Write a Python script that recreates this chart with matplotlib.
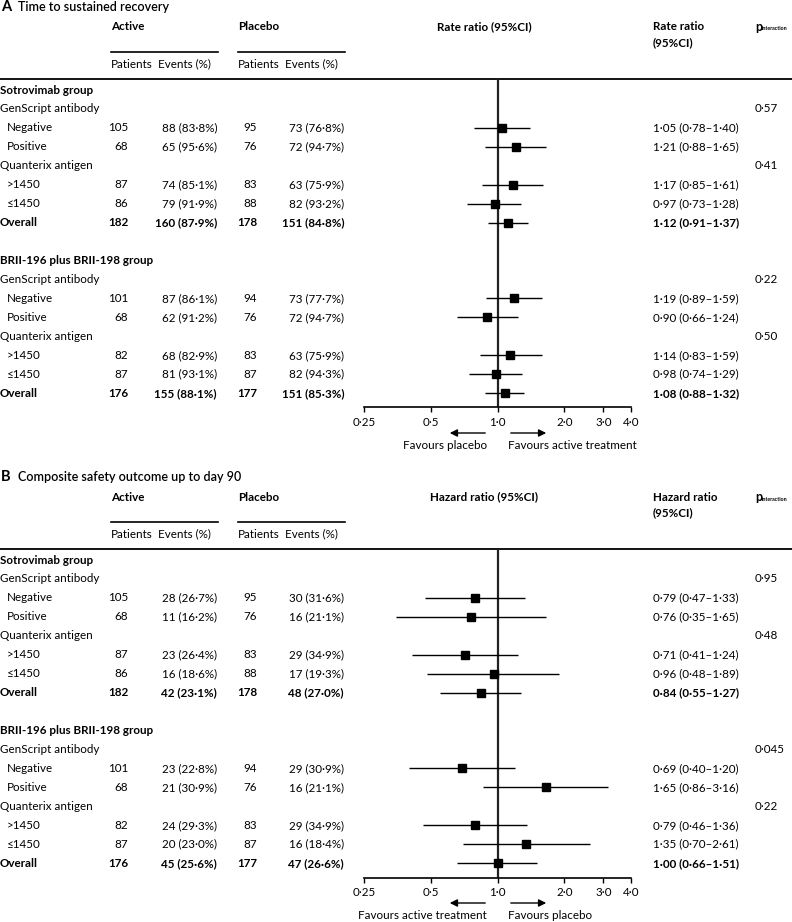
import matplotlib
matplotlib.use("Agg")
import matplotlib.pyplot as plt
from matplotlib.ticker import FixedLocator, NullLocator, FixedFormatter

plt.rcParams['font.family'] = ['Lato', 'DejaVu Sans']

W, H = 792, 922

# ---------------- data ----------------
groups = ["Sotrovimab group", "BRII-196 plus BRII-198 group"]
categories = ["GenScript antibody", "Quanterix antigen"]
subgroups = ["Negative", "Positive", ">1450", "\u22641450", "Overall"]

active_n = [105, 68, 87, 86, 182, 101, 68, 82, 87, 176]
placebo_n = [95, 76, 83, 88, 178, 94, 76, 83, 87, 177]

A_active_ev = [88, 65, 74, 79, 160, 87, 62, 68, 81, 155]
A_active_pct = [83.8, 95.6, 85.1, 91.9, 87.9, 86.1, 91.2, 82.9, 93.1, 88.1]
A_placebo_ev = [73, 72, 63, 82, 151, 73, 72, 63, 82, 151]
A_placebo_pct = [76.8, 94.7, 75.9, 93.2, 84.8, 77.7, 94.7, 75.9, 94.3, 85.3]
A_est = [1.05, 1.21, 1.17, 0.97, 1.12, 1.19, 0.90, 1.14, 0.98, 1.08]
A_lo = [0.78, 0.88, 0.85, 0.73, 0.91, 0.89, 0.66, 0.83, 0.74, 0.88]
A_hi = [1.40, 1.65, 1.61, 1.28, 1.37, 1.59, 1.24, 1.59, 1.29, 1.32]
A_p = ["0\u00b757", "0\u00b741", "0\u00b722", "0\u00b750"]

B_active_ev = [28, 11, 23, 16, 42, 23, 21, 24, 20, 45]
B_active_pct = [26.7, 16.2, 26.4, 18.6, 23.1, 22.8, 30.9, 29.3, 23.0, 25.6]
B_placebo_ev = [30, 16, 29, 17, 48, 29, 16, 29, 16, 47]
B_placebo_pct = [31.6, 21.1, 34.9, 19.3, 27.0, 30.9, 21.1, 34.9, 18.4, 26.6]
B_est = [0.79, 0.76, 0.71, 0.96, 0.84, 0.69, 1.65, 0.79, 1.35, 1.00]
B_lo = [0.47, 0.35, 0.41, 0.48, 0.55, 0.40, 0.86, 0.46, 0.70, 0.66]
B_hi = [1.33, 1.65, 1.24, 1.89, 1.27, 1.20, 3.16, 1.36, 2.61, 1.51]
B_p = ["0\u00b795", "0\u00b748", "0\u00b7045", "0\u00b722"]

tick_vals = [0.25, 0.5, 1.0, 2.0, 3.0, 4.0]
tick_labels = ["0\u00b725", "0\u00b75", "1\u00b70", "2\u00b70", "3\u00b70", "4\u00b70"]


def dot(s):
    return s.replace(".", "\u00b7")


def ev_str(e, p):
    return dot(f"{e} ({p:.1f}%)")


def ratio_str(e, lo, hi):
    return dot(f"{e:.2f} ({lo:.2f}\u2013{hi:.2f})")


fig = plt.figure(figsize=(W / 100, H / 100), dpi=100)
bg = fig.add_axes([0, 0, 1, 1])
bg.set_xlim(0, W)
bg.set_ylim(H, 0)
bg.axis("off")

FS = 8.4
ROW0 = 90
STEP = 18.95
TXT = "black"


def draw_panel(off, letter, title, ratio_name, a_ev, a_pct, p_ev, p_pct,
               est, lo, hi, pvals, fav_left, fav_right):
    # titles / headers
    bg.text(1, off + 7, letter, fontsize=10.5, fontweight="bold", va="center", ha="left", color=TXT)
    bg.text(18, off + 7, title, fontsize=9, fontweight="semibold", va="center", ha="left", color=TXT)
    bg.text(111, off + 27, "Active", fontsize=FS, fontweight="bold", va="center", color=TXT)
    bg.text(238, off + 27, "Placebo", fontsize=FS, fontweight="bold", va="center", color=TXT)
    bg.plot([111, 218], [off + 52, off + 52], color="black", lw=1.2)
    bg.plot([238, 345], [off + 52, off + 52], color="black", lw=1.2)
    bg.text(111, off + 64, "Patients", fontsize=FS, va="center", color=TXT)
    bg.text(158, off + 64, "Events (%)", fontsize=FS, va="center", color=TXT)
    bg.text(238, off + 64, "Patients", fontsize=FS, va="center", color=TXT)
    bg.text(285, off + 64, "Events (%)", fontsize=FS, va="center", color=TXT)
    bg.text(484, off + 27, f"{ratio_name} (95%CI)", fontsize=FS, fontweight="bold",
            va="center", ha="center", color=TXT)
    bg.text(653, off + 27, ratio_name, fontsize=FS, fontweight="bold", va="center", color=TXT)
    bg.text(653, off + 43, "(95%CI)", fontsize=FS, fontweight="bold", va="center", color=TXT)
    bg.text(755, off + 27, "p", fontsize=9, fontweight="bold", va="center", color=TXT)
    bg.text(762, off + 29, "interaction", fontsize=3.8, fontweight="bold", va="center", color=TXT)
    bg.plot([0, W], [off + 79, off + 79], color="black", lw=1.3)

    def ry(r):
        return off + ROW0 + STEP * r

    rows = []
    for g in range(2):
        base = 9 * g
        bg.text(0, ry(base), groups[g], fontsize=FS, fontweight="bold", va="center", color=TXT)
        bg.text(0, ry(base + 1), categories[0], fontsize=FS, va="center", color=TXT)
        bg.text(0, ry(base + 4), categories[1], fontsize=FS, va="center", color=TXT)
        bg.text(755, ry(base + 1), pvals[2 * g], fontsize=FS, va="center", color=TXT)
        bg.text(755, ry(base + 4), pvals[2 * g + 1], fontsize=FS, va="center", color=TXT)
        for j, rr in enumerate([2, 3, 5, 6, 7]):
            k = 5 * g + j
            r = base + rr
            rows.append(r)
            bold = (j == 4)
            fw = "bold" if bold else "normal"
            lab_x = 0 if bold else 7
            y = ry(r)
            bg.text(lab_x, y, subgroups[j], fontsize=FS, fontweight=fw, va="center", color=TXT)
            bg.text(128, y, str(active_n[k]), fontsize=FS, fontweight=fw, va="center", ha="right", color=TXT)
            bg.text(217, y, ev_str(a_ev[k], a_pct[k]), fontsize=FS, fontweight=fw, va="center", ha="right", color=TXT)
            bg.text(257, y, str(placebo_n[k]), fontsize=FS, fontweight=fw, va="center", ha="right", color=TXT)
            bg.text(344, y, ev_str(p_ev[k], p_pct[k]), fontsize=FS, fontweight=fw, va="center", ha="right", color=TXT)
            bg.text(653, y, ratio_str(est[k], lo[k], hi[k]), fontsize=FS, fontweight=fw, va="center", color=TXT)

    # forest axes
    top_px = off + 79
    bot_px = off + 407.5
    x0, x1 = 364, 631
    ax = fig.add_axes([x0 / W, 1 - bot_px / H, (x1 - x0) / W, (bot_px - top_px) / H])
    ax.patch.set_visible(False)
    ax.set_xscale("log", base=2)
    ax.set_xlim(0.25, 4)
    ax.set_ylim((bot_px - off - ROW0) / STEP, (top_px - off - ROW0) / STEP)
    for s in ["top", "right", "left"]:
        ax.spines[s].set_visible(False)
    ax.spines["bottom"].set_linewidth(1.2)
    ax.xaxis.set_major_locator(FixedLocator(tick_vals))
    ax.xaxis.set_major_formatter(FixedFormatter(tick_labels))
    ax.xaxis.set_minor_locator(NullLocator())
    ax.yaxis.set_major_locator(NullLocator())
    ax.tick_params(axis="x", direction="out", length=3.5, width=1, labelsize=FS, pad=3.5, colors=TXT)
    ax.axvline(1.0, color="#222222", lw=1.6, zorder=1)
    ax.hlines(rows, lo, hi, color="black", lw=1.0, zorder=2)
    ax.plot(est, rows, "s", color="black", ms=5.3, zorder=3)

    # favours arrows
    ay = off + 433
    bg.annotate("", xy=(447, ay), xytext=(488, ay),
                arrowprops=dict(arrowstyle="-|>", color="black", lw=1.0, mutation_scale=11))
    bg.annotate("", xy=(549, ay), xytext=(508, ay),
                arrowprops=dict(arrowstyle="-|>", color="black", lw=1.0, mutation_scale=11))
    bg.text(487, off + 445, fav_left, fontsize=FS, va="center", ha="right", color=TXT)
    bg.text(508, off + 445, fav_right, fontsize=FS, va="center", ha="left", color=TXT)


draw_panel(0, "A", "Time to sustained recovery", "Rate ratio",
           A_active_ev, A_active_pct, A_placebo_ev, A_placebo_pct,
           A_est, A_lo, A_hi, A_p, "Favours placebo", "Favours active treatment")
draw_panel(470, "B", "Composite safety outcome up to day 90", "Hazard ratio",
           B_active_ev, B_active_pct, B_placebo_ev, B_placebo_pct,
           B_est, B_lo, B_hi, B_p, "Favours active treatment", "Favours placebo")

fig.savefig("out.png", dpi=100)
